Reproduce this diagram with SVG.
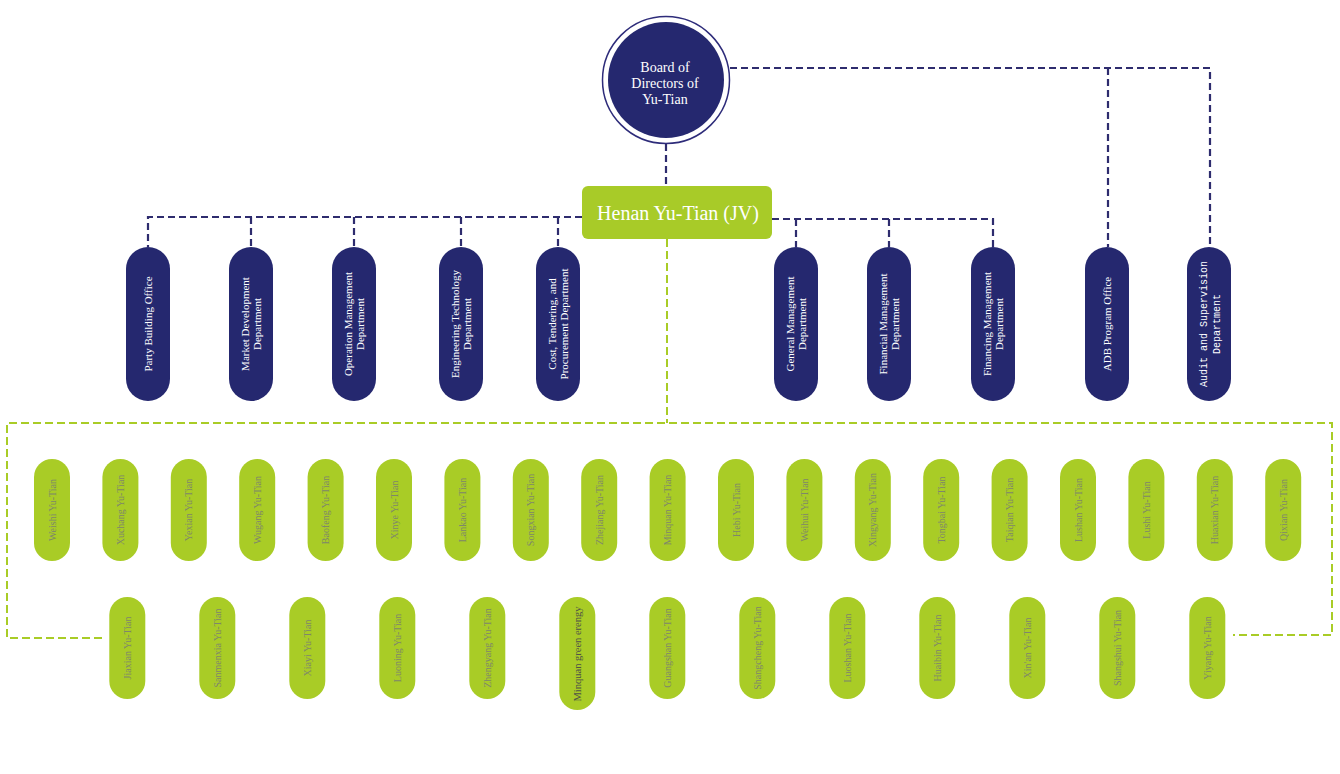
<svg xmlns="http://www.w3.org/2000/svg" width="1340" height="774" viewBox="0 0 1340 774">
<style>
.bg{fill:#ffffff}
.navy{fill:#25286f}
.pill{fill:#25286f}
.gpill{fill:#a9cc26}
.wt{fill:#ffffff;font-family:"Liberation Serif","Times New Roman",serif;text-anchor:middle}
.dept{font-size:11px}
.mono{font-family:"Liberation Mono","Courier New",monospace;font-size:10px}
.gt{fill:#7e876b;font-family:"Liberation Serif","Times New Roman",serif;font-size:10px;text-anchor:middle}
.gt2{fill:#4f5346;font-size:10.5px}
.nd{fill:none;stroke:#2e2c6e;stroke-width:2.2;stroke-dasharray:7 4}
.gd{fill:none;stroke:#a9cc26;stroke-width:2;stroke-dasharray:8 4}
</style>
<rect class="bg" x="0" y="0" width="1340" height="774"/>

<g id="connectors">
  <path class="nd" d="M730 68 H1210 V247"/>
  <path class="nd" d="M1108 68 V247"/>
  <path class="nd" d="M666 144 V186"/>
  <path class="nd" d="M582 217 H148 V247"/>
  <path class="nd" d="M251 217 V247 M354 217 V247 M461 217 V247 M558 217 V247"/>
  <path class="nd" d="M772 219 H993 V247"/>
  <path class="nd" d="M796 219 V247 M889 219 V247"/>
  <path class="gd" d="M667 239 V423"/>
  <path class="gd" d="M102 638 H7 V423 H1332 V635 H1233"/>
</g>

<g id="board">
  <circle cx="666" cy="80" r="63.5" fill="#ffffff" stroke="#2e2c7a" stroke-width="1.5"/>
  <circle class="navy" cx="666" cy="80" r="58"/>
  <text class="wt" font-size="14" x="665"><tspan x="665" y="72">Board of</tspan><tspan x="665" y="88">Directors of</tspan><tspan x="665" y="104">Yu-Tian</tspan></text>
</g>

<g id="henan">
  <rect x="582" y="186" width="190" height="53" rx="6" fill="#a8cb28"/>
  <text class="wt" font-size="20" x="678" y="220">Henan Yu-Tian (JV)</text>
</g>

<g id="party"><rect class="pill" x="126" y="247" width="44" height="154" rx="22"/><text class="wt dept" transform="translate(148,324) rotate(-90)" y="4">Party Building Office</text></g>
<g id="market"><rect class="pill" x="229" y="247" width="44" height="154" rx="22"/><text class="wt dept" transform="translate(251,324) rotate(-90)"><tspan x="0" y="-2.5">Market Development</tspan><tspan x="0" y="9.5">Department</tspan></text></g>
<g id="operation"><rect class="pill" x="332" y="247" width="44" height="154" rx="22"/><text class="wt dept" transform="translate(354,324) rotate(-90)"><tspan x="0" y="-2.5">Operation Management</tspan><tspan x="0" y="9.5">Department</tspan></text></g>
<g id="engineering"><rect class="pill" x="439" y="247" width="44" height="154" rx="22"/><text class="wt dept" transform="translate(461,324) rotate(-90)"><tspan x="0" y="-2.5">Engineering Technology</tspan><tspan x="0" y="9.5">Department</tspan></text></g>
<g id="cost"><rect class="pill" x="536" y="247" width="44" height="154" rx="22"/><text class="wt dept" transform="translate(558,324) rotate(-90)"><tspan x="0" y="-2.5">Cost, Tendering, and</tspan><tspan x="0" y="9.5">Procurement Department</tspan></text></g>
<g id="general"><rect class="pill" x="774" y="247" width="44" height="154" rx="22"/><text class="wt dept" transform="translate(796,324) rotate(-90)"><tspan x="0" y="-2.5">General Management</tspan><tspan x="0" y="9.5">Department</tspan></text></g>
<g id="financial"><rect class="pill" x="867" y="247" width="44" height="154" rx="22"/><text class="wt dept" transform="translate(889,324) rotate(-90)"><tspan x="0" y="-2.5">Financial Management</tspan><tspan x="0" y="9.5">Department</tspan></text></g>
<g id="financing"><rect class="pill" x="971" y="247" width="44" height="154" rx="22"/><text class="wt dept" transform="translate(993,324) rotate(-90)"><tspan x="0" y="-2.5">Financing Management</tspan><tspan x="0" y="9.5">Department</tspan></text></g>
<g id="adb"><rect class="pill" x="1085" y="247" width="44" height="154" rx="22"/><text class="wt dept" transform="translate(1107,324) rotate(-90)" y="4">ADB Program Office</text></g>
<g id="audit"><rect class="pill" x="1187" y="247" width="44" height="154" rx="22"/><text class="wt mono" transform="translate(1209,324) rotate(-90)"><tspan x="0" y="-2">Audit and Supervision</tspan><tspan x="0" y="11">Department</tspan></text></g>

<g id="weishi"><rect class="gpill" x="34" y="459" width="36" height="102" rx="18"/><text class="gt" transform="translate(52,510) rotate(-90)" y="3.5">Weishi Yu-Tian</text></g>
<g id="xuchang"><rect class="gpill" x="102.4" y="459" width="36" height="102" rx="18"/><text class="gt" transform="translate(120.4,510) rotate(-90)" y="3.5">Xuchang Yu-Tian</text></g>
<g id="yexian"><rect class="gpill" x="170.8" y="459" width="36" height="102" rx="18"/><text class="gt" transform="translate(188.8,510) rotate(-90)" y="3.5">Yexian Yu-Tian</text></g>
<g id="wugang"><rect class="gpill" x="239.2" y="459" width="36" height="102" rx="18"/><text class="gt" transform="translate(257.2,510) rotate(-90)" y="3.5">Wugang Yu-Tian</text></g>
<g id="baofeng"><rect class="gpill" x="307.6" y="459" width="36" height="102" rx="18"/><text class="gt" transform="translate(325.6,510) rotate(-90)" y="3.5">Baofeng Yu-Tian</text></g>
<g id="xinye"><rect class="gpill" x="376" y="459" width="36" height="102" rx="18"/><text class="gt" transform="translate(394,510) rotate(-90)" y="3.5">Xinye Yu-Tian</text></g>
<g id="lankao"><rect class="gpill" x="444.4" y="459" width="36" height="102" rx="18"/><text class="gt" transform="translate(462.4,510) rotate(-90)" y="3.5">Lankao Yu-Tian</text></g>
<g id="songxian"><rect class="gpill" x="512.8" y="459" width="36" height="102" rx="18"/><text class="gt" transform="translate(530.8,510) rotate(-90)" y="3.5">Songxian Yu-Tian</text></g>
<g id="zhejiang"><rect class="gpill" x="581.2" y="459" width="36" height="102" rx="18"/><text class="gt" transform="translate(599.2,510) rotate(-90)" y="3.5">Zhejiang Yu-Tian</text></g>
<g id="minquan"><rect class="gpill" x="649.6" y="459" width="36" height="102" rx="18"/><text class="gt" transform="translate(667.6,510) rotate(-90)" y="3.5">Minquan Yu-Tian</text></g>
<g id="hebi"><rect class="gpill" x="718" y="459" width="36" height="102" rx="18"/><text class="gt" transform="translate(736,510) rotate(-90)" y="3.5">Hebi Yu-Tian</text></g>
<g id="weihui"><rect class="gpill" x="786.4" y="459" width="36" height="102" rx="18"/><text class="gt" transform="translate(804.4,510) rotate(-90)" y="3.5">Weihui Yu-Tian</text></g>
<g id="xingyang"><rect class="gpill" x="854.8" y="459" width="36" height="102" rx="18"/><text class="gt" transform="translate(872.8,510) rotate(-90)" y="3.5">Xingyang Yu-Tian</text></g>
<g id="tongbai"><rect class="gpill" x="923.2" y="459" width="36" height="102" rx="18"/><text class="gt" transform="translate(941.2,510) rotate(-90)" y="3.5">Tongbai Yu-Tian</text></g>
<g id="taiqian"><rect class="gpill" x="991.6" y="459" width="36" height="102" rx="18"/><text class="gt" transform="translate(1009.6,510) rotate(-90)" y="3.5">Taiqian Yu-Tian</text></g>
<g id="lushan"><rect class="gpill" x="1060" y="459" width="36" height="102" rx="18"/><text class="gt" transform="translate(1078,510) rotate(-90)" y="3.5">Lushan Yu-Tian</text></g>
<g id="lushi"><rect class="gpill" x="1128.4" y="459" width="36" height="102" rx="18"/><text class="gt" transform="translate(1146.4,510) rotate(-90)" y="3.5">Lushi Yu-Tian</text></g>
<g id="huaxian"><rect class="gpill" x="1196.8" y="459" width="36" height="102" rx="18"/><text class="gt" transform="translate(1214.8,510) rotate(-90)" y="3.5">Huaxian Yu-Tian</text></g>
<g id="qixian"><rect class="gpill" x="1265.2" y="459" width="36" height="102" rx="18"/><text class="gt" transform="translate(1283.2,510) rotate(-90)" y="3.5">Qixian Yu-Tian</text></g>

<g id="jiaxian"><rect class="gpill" x="109.3" y="597" width="36" height="102" rx="18"/><text class="gt" transform="translate(127.3,648) rotate(-90)" y="3.5">Jiaxian Yu-Tian</text></g>
<g id="sanmenxia"><rect class="gpill" x="199.3" y="597" width="36" height="102" rx="18"/><text class="gt" transform="translate(217.3,648) rotate(-90)" y="3.5">Sanmenxia Yu-Tian</text></g>
<g id="xiayi"><rect class="gpill" x="289.3" y="597" width="36" height="102" rx="18"/><text class="gt" transform="translate(307.3,648) rotate(-90)" y="3.5">Xiayi Yu-Tian</text></g>
<g id="luoning"><rect class="gpill" x="379.3" y="597" width="36" height="102" rx="18"/><text class="gt" transform="translate(397.3,648) rotate(-90)" y="3.5">Luoning Yu-Tian</text></g>
<g id="zhengyang"><rect class="gpill" x="469.3" y="597" width="36" height="102" rx="18"/><text class="gt" transform="translate(487.3,648) rotate(-90)" y="3.5">Zhengyang Yu-Tian</text></g>
<g id="minquan-green"><rect class="gpill" x="559.3" y="597" width="36" height="113" rx="18"/><text class="gt gt2" transform="translate(577.3,654) rotate(-90)" y="3.5">Minquan green erengy</text></g>
<g id="guangshan"><rect class="gpill" x="649.3" y="597" width="36" height="102" rx="18"/><text class="gt" transform="translate(667.3,648) rotate(-90)" y="3.5">Guangshan Yu-Tian</text></g>
<g id="shangcheng"><rect class="gpill" x="739.3" y="597" width="36" height="102" rx="18"/><text class="gt" transform="translate(757.3,648) rotate(-90)" y="3.5">Shangcheng Yu-Tian</text></g>
<g id="luoshan"><rect class="gpill" x="829.3" y="597" width="36" height="102" rx="18"/><text class="gt" transform="translate(847.3,648) rotate(-90)" y="3.5">Luoshan Yu-Tian</text></g>
<g id="huaibin"><rect class="gpill" x="919.3" y="597" width="36" height="102" rx="18"/><text class="gt" transform="translate(937.3,648) rotate(-90)" y="3.5">Huaibin Yu-Tian</text></g>
<g id="xinan"><rect class="gpill" x="1009.3" y="597" width="36" height="102" rx="18"/><text class="gt" transform="translate(1027.3,648) rotate(-90)" y="3.5">Xin'an Yu-Tian</text></g>
<g id="shangshui"><rect class="gpill" x="1099.3" y="597" width="36" height="102" rx="18"/><text class="gt" transform="translate(1117.3,648) rotate(-90)" y="3.5">Shangshui Yu-Tian</text></g>
<g id="yiyang"><rect class="gpill" x="1189.3" y="597" width="36" height="102" rx="18"/><text class="gt" transform="translate(1207.3,648) rotate(-90)" y="3.5">Yiyang Yu-Tian</text></g>
</svg>
